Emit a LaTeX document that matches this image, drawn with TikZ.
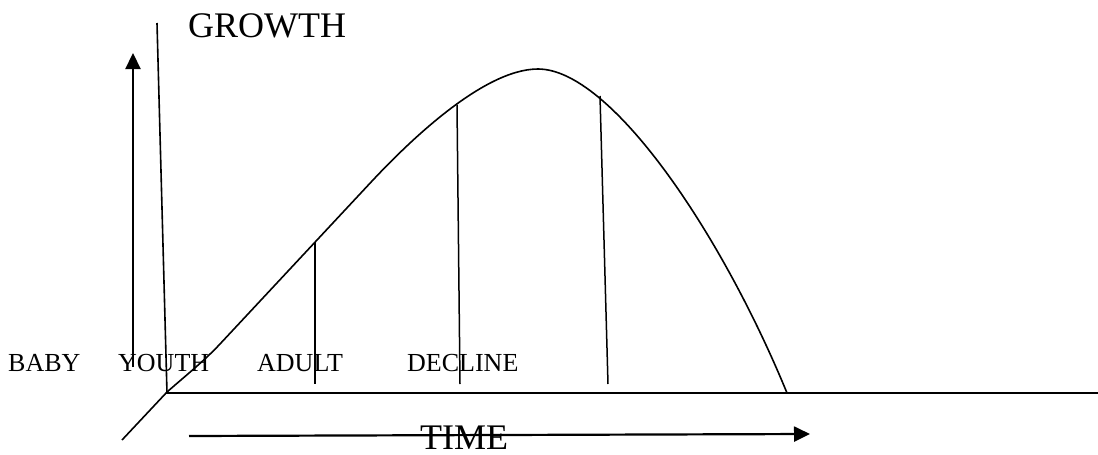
\documentclass[tikz,border=0pt]{standalone}
\usepackage{fontspec}
\setmainfont{Liberation Serif}
\usetikzlibrary{arrows.meta}
\begin{document}
\begin{tikzpicture}[x=1pt, y=-1pt,
  axis/.style={line width=1.6pt},
  stage/.style={line width=1.5pt},
  bigarrow/.style={line width=2.2pt, -{Triangle[length=16pt, width=15pt]}},
  lbl/.style={font=\fontsize{26}{26}\selectfont, anchor=base west, inner sep=0pt},
  title/.style={font=\fontsize{36}{36}\selectfont, anchor=base west, inner sep=0pt}]
\useasboundingbox (0,0) rectangle (1098,455);
% axes
\coordinate (ytop) at (157,23);
\coordinate (o) at (167,393);
\coordinate (xend) at (1098,393);
\draw[axis] (ytop) -- (o) -- (xend);
% growth curve
\draw[axis] (122,440) -- (167,392) .. controls (190,372) and (205,360) .. (220,344) -- (373,180)
  .. controls (405,146) and (482,69) .. (538,69)
  .. controls (610,69) and (720,230) .. (787,393);
% stage lines
\foreach \i/\xa/\ya/\xb in {1/315/242/315, 2/457/105/460, 3/600/96/608} {
  \coordinate (s\i) at (\xa,\ya);
  \coordinate (f\i) at (\xb,384);
  \draw[stage] (s\i) -- (f\i);
}
% arrows
\coordinate (gb) at (133,367);
\coordinate (gt) at (133,53);
\draw[bigarrow] (gb) -- (gt);
\coordinate (tb) at (189,436);
\coordinate (te) at (810,434);
\draw[bigarrow] (tb) -- (te);
% labels
\node[title] (growth) at (188,37) {GROWTH};
\node[title] (time) at (420,449) {TIME};
\foreach \x/\name in {8/BABY, 118/YOUTH, 257/ADULT, 407/DECLINE}
  \node[lbl] (\name) at (\x,371) {\name};
\end{tikzpicture}
\end{document}
